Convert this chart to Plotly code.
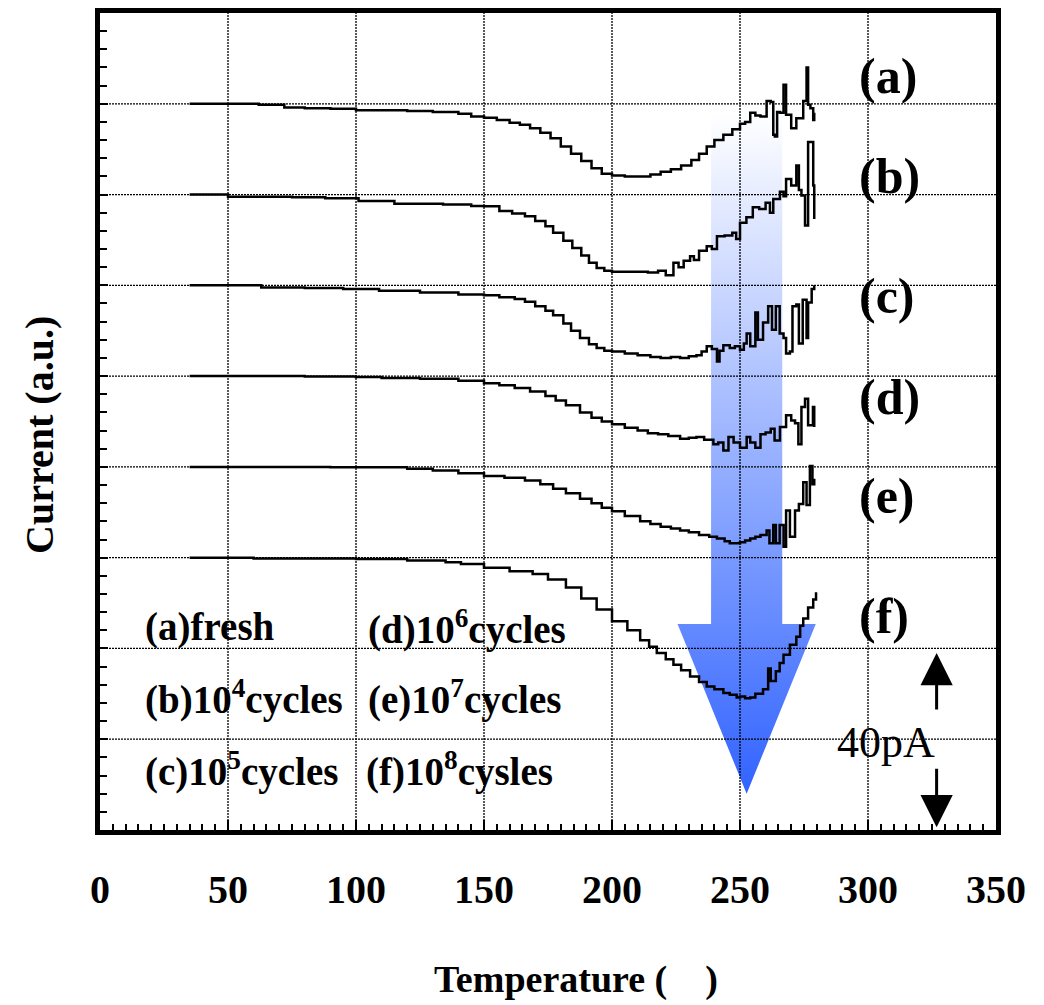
import plotly.graph_objects as go

# ---------------- data (temperature in deg C, current in a.u.; 1 a.u. = 20 pA) ----------------
T_A = [35, 50, 62, 72, 80, 90, 100, 110, 120, 130, 140, 145, 150, 155, 160, 164, 168, 172, 176, 180,
       184, 188, 192, 196, 200, 205, 210, 215, 219, 223, 227, 231, 234, 237, 240, 243.5, 247, 250, 252, 254,
       256, 258, 260.4, 262, 263, 263.6, 264.5, 265.6, 267, 268, 270, 272, 274.7, 276, 276.6, 277.5, 278.6, 279]
Y_A = [8.00, 8.00, 7.99, 7.96, 7.95, 7.945, 7.93, 7.93, 7.92, 7.91, 7.89, 7.86, 7.845, 7.82, 7.79, 7.77, 7.73, 7.68, 7.62, 7.53,
       7.45, 7.37, 7.29, 7.23, 7.21, 7.20, 7.20, 7.22, 7.25, 7.28, 7.32, 7.38, 7.45, 7.53, 7.60, 7.66, 7.72, 7.78, 7.80, 7.90,
       7.87, 7.86, 8.03, 8.02, 7.66, 7.64, 7.91, 7.90, 8.21, 7.88, 7.73, 7.84, 8.03, 8.40, 7.99, 7.95, 7.82, 7.90]

T_B = [35, 48, 50, 75, 88, 101, 115, 134, 145, 150, 156, 161, 166, 170, 174, 177, 181, 184.5, 188, 191,
       194, 197, 200, 205, 210, 214, 218, 221, 224, 226, 228, 230.5, 232, 234, 237, 239, 241, 244, 247, 248.5,
       250, 252.5, 255, 257.5, 260, 261.7, 263, 265.6, 267, 268, 270, 272, 273, 274, 275.4, 276.6, 278, 278.6, 279]
Y_B = [7.00, 7.00, 6.975, 6.97, 6.96, 6.93, 6.90, 6.89, 6.875, 6.87, 6.82, 6.79, 6.76, 6.71, 6.65, 6.58, 6.49, 6.41, 6.33, 6.25,
       6.19, 6.16, 6.15, 6.15, 6.15, 6.14, 6.16, 6.11, 6.25, 6.20, 6.27, 6.32, 6.28, 6.38, 6.43, 6.40, 6.54, 6.55, 6.58, 6.51,
       6.69, 6.75, 6.86, 6.84, 6.91, 6.80, 6.95, 7.03, 6.98, 7.17, 7.10, 7.32, 7.05, 6.99, 6.66, 7.58, 7.58, 7.10, 6.73]

T_C = [35, 62, 63, 80, 95, 109, 125, 140, 150, 156, 162, 166, 170, 174, 177, 181, 184, 187.5, 191, 194,
       197, 200, 205, 210, 215, 219, 223, 226.6, 230, 233, 235, 237, 239, 241, 242, 243.5, 246, 248, 250, 251.5,
       252.6, 254, 256, 257, 259, 261, 262.5, 264, 265.5, 267, 268, 269.5, 270.5, 272, 273, 274.5, 276, 276.6, 278, 279]
Y_C = [6.00, 6.00, 5.975, 5.97, 5.96, 5.94, 5.92, 5.90, 5.89, 5.87, 5.85, 5.82, 5.77, 5.72, 5.67, 5.58, 5.50, 5.42, 5.35, 5.31,
       5.28, 5.27, 5.25, 5.23, 5.21, 5.20, 5.21, 5.20, 5.22, 5.23, 5.27, 5.33, 5.30, 5.16, 5.28, 5.34, 5.31, 5.33, 5.29, 5.36,
       5.47, 5.33, 5.70, 5.40, 5.59, 5.77, 5.51, 5.77, 5.47, 5.42, 5.25, 5.27, 5.77, 5.79, 5.36, 5.84, 5.42, 5.81, 5.96, 6.00]

T_D = [35, 60, 80, 100, 110, 125, 140, 150, 156, 162, 168, 174, 178, 182, 187.5, 192, 196, 200, 205, 210,
       214, 218, 222, 226.6, 230, 233, 236, 239.6, 241.5, 243.5, 245.5, 247.5, 250, 252.6, 254, 256, 258, 260, 262, 263.5,
       265.6, 268, 270, 271.5, 272.8, 274, 275.4, 276.6, 278.5, 279]
Y_D = [5.00, 5.00, 4.995, 4.99, 4.98, 4.97, 4.95, 4.92, 4.90, 4.87, 4.83, 4.78, 4.73, 4.68, 4.60, 4.54, 4.50, 4.47, 4.43, 4.40,
       4.37, 4.36, 4.34, 4.31, 4.32, 4.33, 4.30, 4.25, 4.27, 4.18, 4.33, 4.27, 4.21, 4.33, 4.27, 4.21, 4.36, 4.38, 4.42, 4.29,
       4.44, 4.57, 4.51, 4.48, 4.25, 4.66, 4.75, 4.46, 4.66, 4.44]

T_E = [35, 90, 120, 130, 140, 150, 158, 166, 172, 177, 182, 187.5, 192, 196, 200, 205, 211, 215, 219, 223,
       226.6, 230, 234, 238, 241, 244, 246, 250, 252, 254, 256, 258, 260.4, 261.5, 263, 264, 265.5, 267, 268, 269.5,
       271.5, 273, 274.7, 276, 277.3, 278.3, 279]
Y_E = [4.00, 3.995, 3.98, 3.96, 3.93, 3.90, 3.88, 3.85, 3.81, 3.76, 3.71, 3.65, 3.60, 3.55, 3.51, 3.46, 3.40, 3.37, 3.34, 3.32,
       3.30, 3.28, 3.25, 3.23, 3.21, 3.18, 3.16, 3.17, 3.19, 3.21, 3.23, 3.25, 3.30, 3.16, 3.36, 3.16, 3.36, 3.12, 3.52, 3.23,
       3.52, 3.59, 3.83, 3.58, 4.01, 3.81, 3.87]

T_F = [35, 55, 60, 100, 120, 135, 141, 150, 160, 169, 175, 182, 188, 194, 200, 206, 211, 214.5, 217.5, 221,
       224, 227, 230.5, 234, 237, 240, 243.5, 246, 248.7, 250, 252, 254, 256, 259, 261, 262, 264, 265.5, 267, 269.5,
       272, 273.5, 274.7, 276.6, 278.6, 279.7]
Y_F = [3.00, 3.00, 2.99, 2.985, 2.97, 2.95, 2.93, 2.89, 2.85, 2.82, 2.76, 2.67, 2.55, 2.43, 2.30, 2.20, 2.09, 2.02, 1.95, 1.88,
       1.82, 1.76, 1.69, 1.63, 1.58, 1.55, 1.51, 1.49, 1.46, 1.47, 1.45, 1.46, 1.50, 1.55, 1.78, 1.64, 1.75, 1.84, 1.93, 2.04,
       2.13, 2.25, 2.33, 2.45, 2.54, 2.62]

CURVE_LABELS = ["(a)", "(b)", "(c)", "(d)", "(e)", "(f)"]
CURVE_LABEL_Y = [8.31, 7.20, 5.88, 4.77, 3.68, 2.36]
CURVE_LABEL_T = 295.7

LEGEND_TEXT = ["(a)fresh", "(b)10<sup>4</sup>cycles", "(c)10<sup>5</sup>cycles",
               "(d)10<sup>6</sup>cycles", "(e)10<sup>7</sup>cycles", "(f)10<sup>8</sup>cysles"]
LEGEND_T = [16.8, 16.8, 16.8, 104.0, 104.0, 103.2]
LEGEND_Y = [2.236, 1.459, 0.670, 2.236, 1.459, 0.670]

X_TICKS = [0, 50, 100, 150, 200, 250, 300, 350]
Y_GRID = [1, 2, 3, 4, 5, 6, 7, 8]
X_RANGE = [0, 350]
Y_RANGE = [0, 9]

# big "ageing" arrow (temperature / a.u.)
ARROW_T_CENTER = 252.6
ARROW_SHAFT_HALF = 13.9
ARROW_HEAD_HALF = 27.0
ARROW_TOP = 7.89
ARROW_HEAD_BASE = 2.27
ARROW_TIP = 0.40

# 40 pA scale bar (2 a.u.)
SCALE_T = 326.8
SCALE_UP = (1.31, 1.95)
SCALE_DOWN = (0.69, 0.03)
SCALE_TEXT = "40pA"
SCALE_TEXT_T = 307.0
SCALE_TEXT_Y = 0.964

FONT = "Liberation Serif"

fig = go.Figure()

# gradient arrow
ax_t = [ARROW_T_CENTER - ARROW_SHAFT_HALF, ARROW_T_CENTER - ARROW_SHAFT_HALF, ARROW_T_CENTER - ARROW_HEAD_HALF,
        ARROW_T_CENTER, ARROW_T_CENTER + ARROW_HEAD_HALF, ARROW_T_CENTER + ARROW_SHAFT_HALF,
        ARROW_T_CENTER + ARROW_SHAFT_HALF, ARROW_T_CENTER - ARROW_SHAFT_HALF]
ax_y = [ARROW_TOP, ARROW_HEAD_BASE, ARROW_HEAD_BASE, ARROW_TIP, ARROW_HEAD_BASE, ARROW_HEAD_BASE, ARROW_TOP, ARROW_TOP]
fig.add_trace(go.Scatter(
    x=ax_t, y=ax_y, mode="lines", fill="toself",
    line=dict(width=0, color="rgba(0,0,0,0)"),
    fillgradient=dict(type="vertical", colorscale=[[0, "#3163ff"], [1, "#ffffff"]]),
    hoverinfo="skip", showlegend=False))

for t, y in [(T_A, Y_A), (T_B, Y_B), (T_C, Y_C), (T_D, Y_D), (T_E, Y_E), (T_F, Y_F)]:
    fig.add_trace(go.Scatter(x=t, y=y, mode="lines", line=dict(color="black", width=2.5, shape="hv"),
                             showlegend=False, hoverinfo="skip"))

shapes = []
for xv in X_TICKS:
    if X_RANGE[0] < xv < X_RANGE[1]:
        shapes.append(dict(type="line", xref="x", yref="paper", x0=xv, x1=xv, y0=0, y1=1,
                           line=dict(color="black", width=1.3, dash="2px,1px"), layer="above"))
for yv in Y_GRID:
    shapes.append(dict(type="line", xref="paper", yref="y", x0=0, x1=1, y0=yv, y1=yv,
                       line=dict(color="black", width=1.3, dash="2px,1px"), layer="above"))

annotations = []
for lab, ly in zip(CURVE_LABELS, CURVE_LABEL_Y):
    annotations.append(dict(x=CURVE_LABEL_T, y=ly, xref="x", yref="y", text=lab, showarrow=False,
                            xanchor="left", yanchor="middle",
                            font=dict(family=FONT, size=50, color="black", weight="bold")))
for txt, lt, ly in zip(LEGEND_TEXT, LEGEND_T, LEGEND_Y):
    annotations.append(dict(x=lt, y=ly, xref="x", yref="y", text=txt, showarrow=False,
                            xanchor="left", yanchor="middle",
                            font=dict(family=FONT, size=39, color="black", weight="bold")))
annotations.append(dict(x=SCALE_TEXT_T, y=SCALE_TEXT_Y, xref="x", yref="y", text=SCALE_TEXT, showarrow=False,
                        xanchor="center", yanchor="middle", font=dict(family=FONT, size=44, color="black")))
for tail, head in [SCALE_UP, SCALE_DOWN]:
    annotations.append(dict(x=SCALE_T, y=head, ax=SCALE_T, ay=tail, xref="x", yref="y", axref="x", ayref="y",
                            text="", showarrow=True, arrowhead=2, arrowsize=2.15, arrowwidth=3,
                            arrowcolor="black", standoff=0, startstandoff=0))
# axis titles
annotations.append(dict(x=0.531, y=-0.1825, xref="paper", yref="paper", text="Temperature (\u00a0\u00a0\u00a0\u00a0)",
                        showarrow=False, xanchor="center", yanchor="middle",
                        font=dict(family=FONT, size=38, color="black", weight="bold")))
annotations.append(dict(x=-0.0675, y=0.483, xref="paper", yref="paper", text="Current (a.u.)", textangle=-90,
                        showarrow=False, xanchor="center", yanchor="middle",
                        font=dict(family=FONT, size=40, color="black", weight="bold")))

fig.update_layout(
    width=1044, height=1005,
    margin=dict(l=100, r=48, t=8, b=175),
    paper_bgcolor="white", plot_bgcolor="white",
    showlegend=False,
    shapes=shapes, annotations=annotations,
    xaxis=dict(range=X_RANGE, tickvals=X_TICKS, ticktext=[str(v) for v in X_TICKS],
               showgrid=False, zeroline=False, showline=True, mirror=True, linecolor="black", linewidth=5,
               ticks="inside", ticklen=10, tickwidth=1.5, tickcolor="black",
               minor=dict(dtick=5, ticks="inside", ticklen=6, tickwidth=1.5, tickcolor="black", showgrid=False),
               tickfont=dict(family=FONT, size=40, color="black", weight="bold"),
               ticklabelstandoff=20),
    yaxis=dict(range=Y_RANGE, dtick=1, showgrid=False, zeroline=False, showline=True, mirror=True,
               linecolor="black", linewidth=5, showticklabels=False,
               ticks="inside", ticklen=8, tickwidth=1.5, tickcolor="black",
               minor=dict(dtick=0.2, ticks="inside", ticklen=7, tickwidth=1.5, tickcolor="black", showgrid=False)),
)

fig.write_html("out.html")
